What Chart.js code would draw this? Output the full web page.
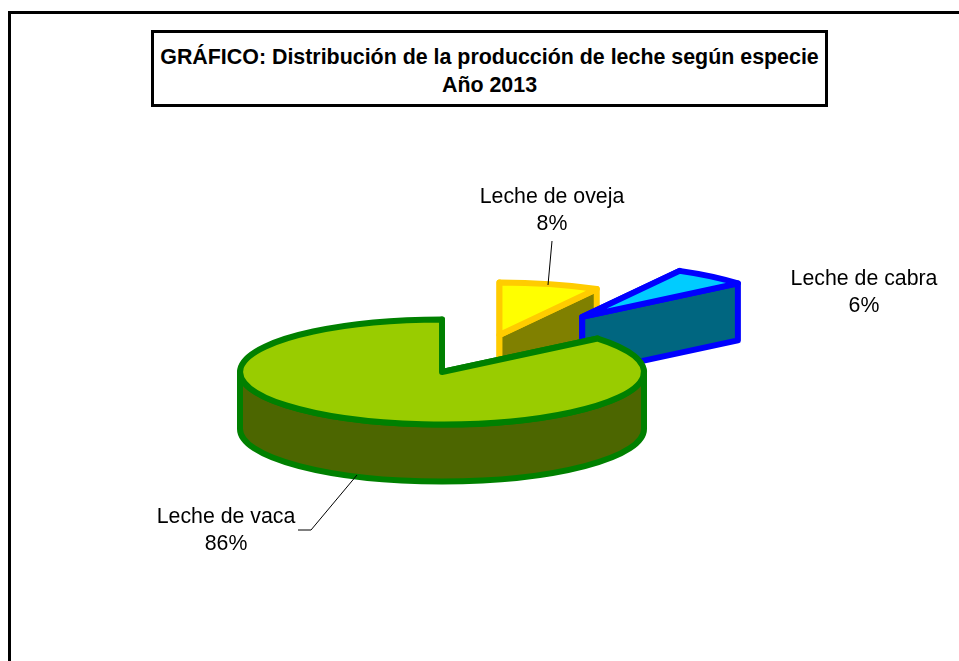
<!DOCTYPE html>
<html>
<head>
<meta charset="utf-8">
<title>Distribución de la producción de leche</title>
<script src="https://cdn.jsdelivr.net/npm/chart.js@4"></script>
<style>
  html, body { margin: 0; padding: 0; background: #fff; overflow: hidden; }
  #wrap { position: relative; width: 959px; height: 661px; }
  #frame {
    position: absolute; left: 8px; top: 11px; right: 0; bottom: 0;
    border-left: 3px solid #000; border-top: 3px solid #000;
  }
  #chartTitle {
    position: absolute; left: 151px; top: 30px; width: 677px; height: 77px;
    box-sizing: border-box; border: 3.5px solid #000; background: #fff;
    font: bold 21.4px/28px "Liberation Sans", Arial, sans-serif;
    text-align: center; padding-top: 10px; color: #000; white-space: nowrap;
  }
  canvas { position: absolute; left: 0; top: 0; }
</style>
</head>
<body>
<div id="wrap">
  <div id="frame"></div>
  <canvas id="pie" width="959" height="661"></canvas>
  <div id="chartTitle">GRÁFICO: Distribución de la producción de leche según especie<br>Año 2013</div>
</div>
<script>
const categories = ['Leche de oveja', 'Leche de cabra', 'Leche de vaca'];
const shares = [8, 6, 86];
const explode = [231, 220, 0];
const explodeTilt = [0.165, 0.325, 1];

const faceColors = ['#FFFF00', '#00CCFF', '#99CC00'];
const wallColors = ['#808000', '#006680', '#4C6600'];
const edgeColors = ['#FFCC00', '#0000FF', '#008000'];

const squash = 0.26;  // flattens the circle into the tilted ellipse
const depth = 57;     // thickness of the pie in px

// where the data labels go, plus their leader lines
const labelSpots = [
    { x: 552, y: 197, leader: [[552, 241], [548, 285]] },
    { x: 864, y: 279, leader: [] },
    { x: 226, y: 517, leader: [[357, 475], [311, 530], [298, 530]] }
];

function traceFace(ctx, cx, cy, r, start, end) {
    ctx.beginPath();
    ctx.moveTo(cx, cy);
    ctx.ellipse(cx, cy, r, r * squash, 0, start, end);
    ctx.closePath();
}

function traceCut(ctx, cx, cy, r, angle) {
    const ex = cx + Math.cos(angle) * r;
    const ey = cy + Math.sin(angle) * r * squash;
    ctx.beginPath();
    ctx.moveTo(cx, cy);
    ctx.lineTo(ex, ey);
    ctx.lineTo(ex, ey + depth);
    ctx.lineTo(cx, cy + depth);
    ctx.closePath();
}

// outer wall, only the part that faces the viewer
function traceWall(ctx, cx, cy, r, start, end) {
    const turn = Math.PI * 2;
    const from = Math.max(start, 0);
    const to = Math.min(end, Math.PI);
    let a = from, b = to;
    if (b <= a) {
        a = Math.max(start, turn);
        b = Math.min(end, turn + Math.PI);
        if (b <= a) return false;
    }
    ctx.beginPath();
    ctx.ellipse(cx, cy, r, r * squash, 0, a, b);
    ctx.ellipse(cx, cy + depth, r, r * squash, 0, b, a, true);
    ctx.closePath();
    return true;
}

const pie3d = {
    id: 'pie3d',
    beforeDatasetDraw(chart, args) {
        const ctx = chart.ctx;
        const arcs = chart.getDatasetMeta(args.index).data;
        ctx.save();
        ctx.lineWidth = 6;
        ctx.lineJoin = 'round';
        arcs.forEach((arc, i) => {
            const { x, y, startAngle, endAngle, outerRadius } = arc.getProps(['x', 'y', 'startAngle', 'endAngle', 'outerRadius'], true);
            const mid = (startAngle + endAngle) / 2;
            const cx = x + Math.cos(mid) * arc.options.offset;
            const cy = y + Math.sin(mid) * arc.options.offset * explodeTilt[i];

            const paint = (fill) => {
                ctx.fillStyle = fill;
                ctx.strokeStyle = edgeColors[i];
                ctx.fill();
                ctx.stroke();
            };
            traceCut(ctx, cx, cy, outerRadius, startAngle);
            paint(wallColors[i]);
            traceCut(ctx, cx, cy, outerRadius, endAngle);
            paint(wallColors[i]);
            if (traceWall(ctx, cx, cy, outerRadius, startAngle, endAngle)) {
                paint(wallColors[i]);
            }
            traceFace(ctx, cx, cy, outerRadius, startAngle, endAngle);
            paint(faceColors[i]);
        });
        ctx.restore();
        return false; // the arcs are painted above
    },
    afterDatasetsDraw(chart) {
        const ctx = chart.ctx;
        ctx.save();
        ctx.fillStyle = '#000';
        ctx.strokeStyle = '#000';
        ctx.lineWidth = 1;
        ctx.font = '21.3px "Liberation Sans", Arial, sans-serif';
        ctx.textAlign = 'center';
        ctx.textBaseline = 'middle';
        categories.forEach((name, i) => {
            const spot = labelSpots[i];
            ctx.fillText(name, spot.x, spot.y);
            ctx.fillText(shares[i] + '%', spot.x, spot.y + 27);
            if (spot.leader.length) {
                ctx.beginPath();
                spot.leader.forEach((p, k) => k ? ctx.lineTo(p[0], p[1]) : ctx.moveTo(p[0], p[1]));
                ctx.stroke();
            }
        });
        ctx.restore();
    }
};

new Chart(document.getElementById('pie'), {
    type: 'pie',
    data: {
        labels: categories,
        datasets: [{
            data: shares,
            offset: explode,
            backgroundColor: faceColors,
            borderColor: edgeColors
        }]
    },
    options: {
        responsive: false,
        animation: false,
        radius: 202,
        rotation: 0,
        layout: { padding: { top: 83, right: 75 } },
        plugins: {
            legend: { display: false },
            tooltip: { enabled: false }
        }
    },
    plugins: [pie3d]
});
</script>
</body>
</html>
